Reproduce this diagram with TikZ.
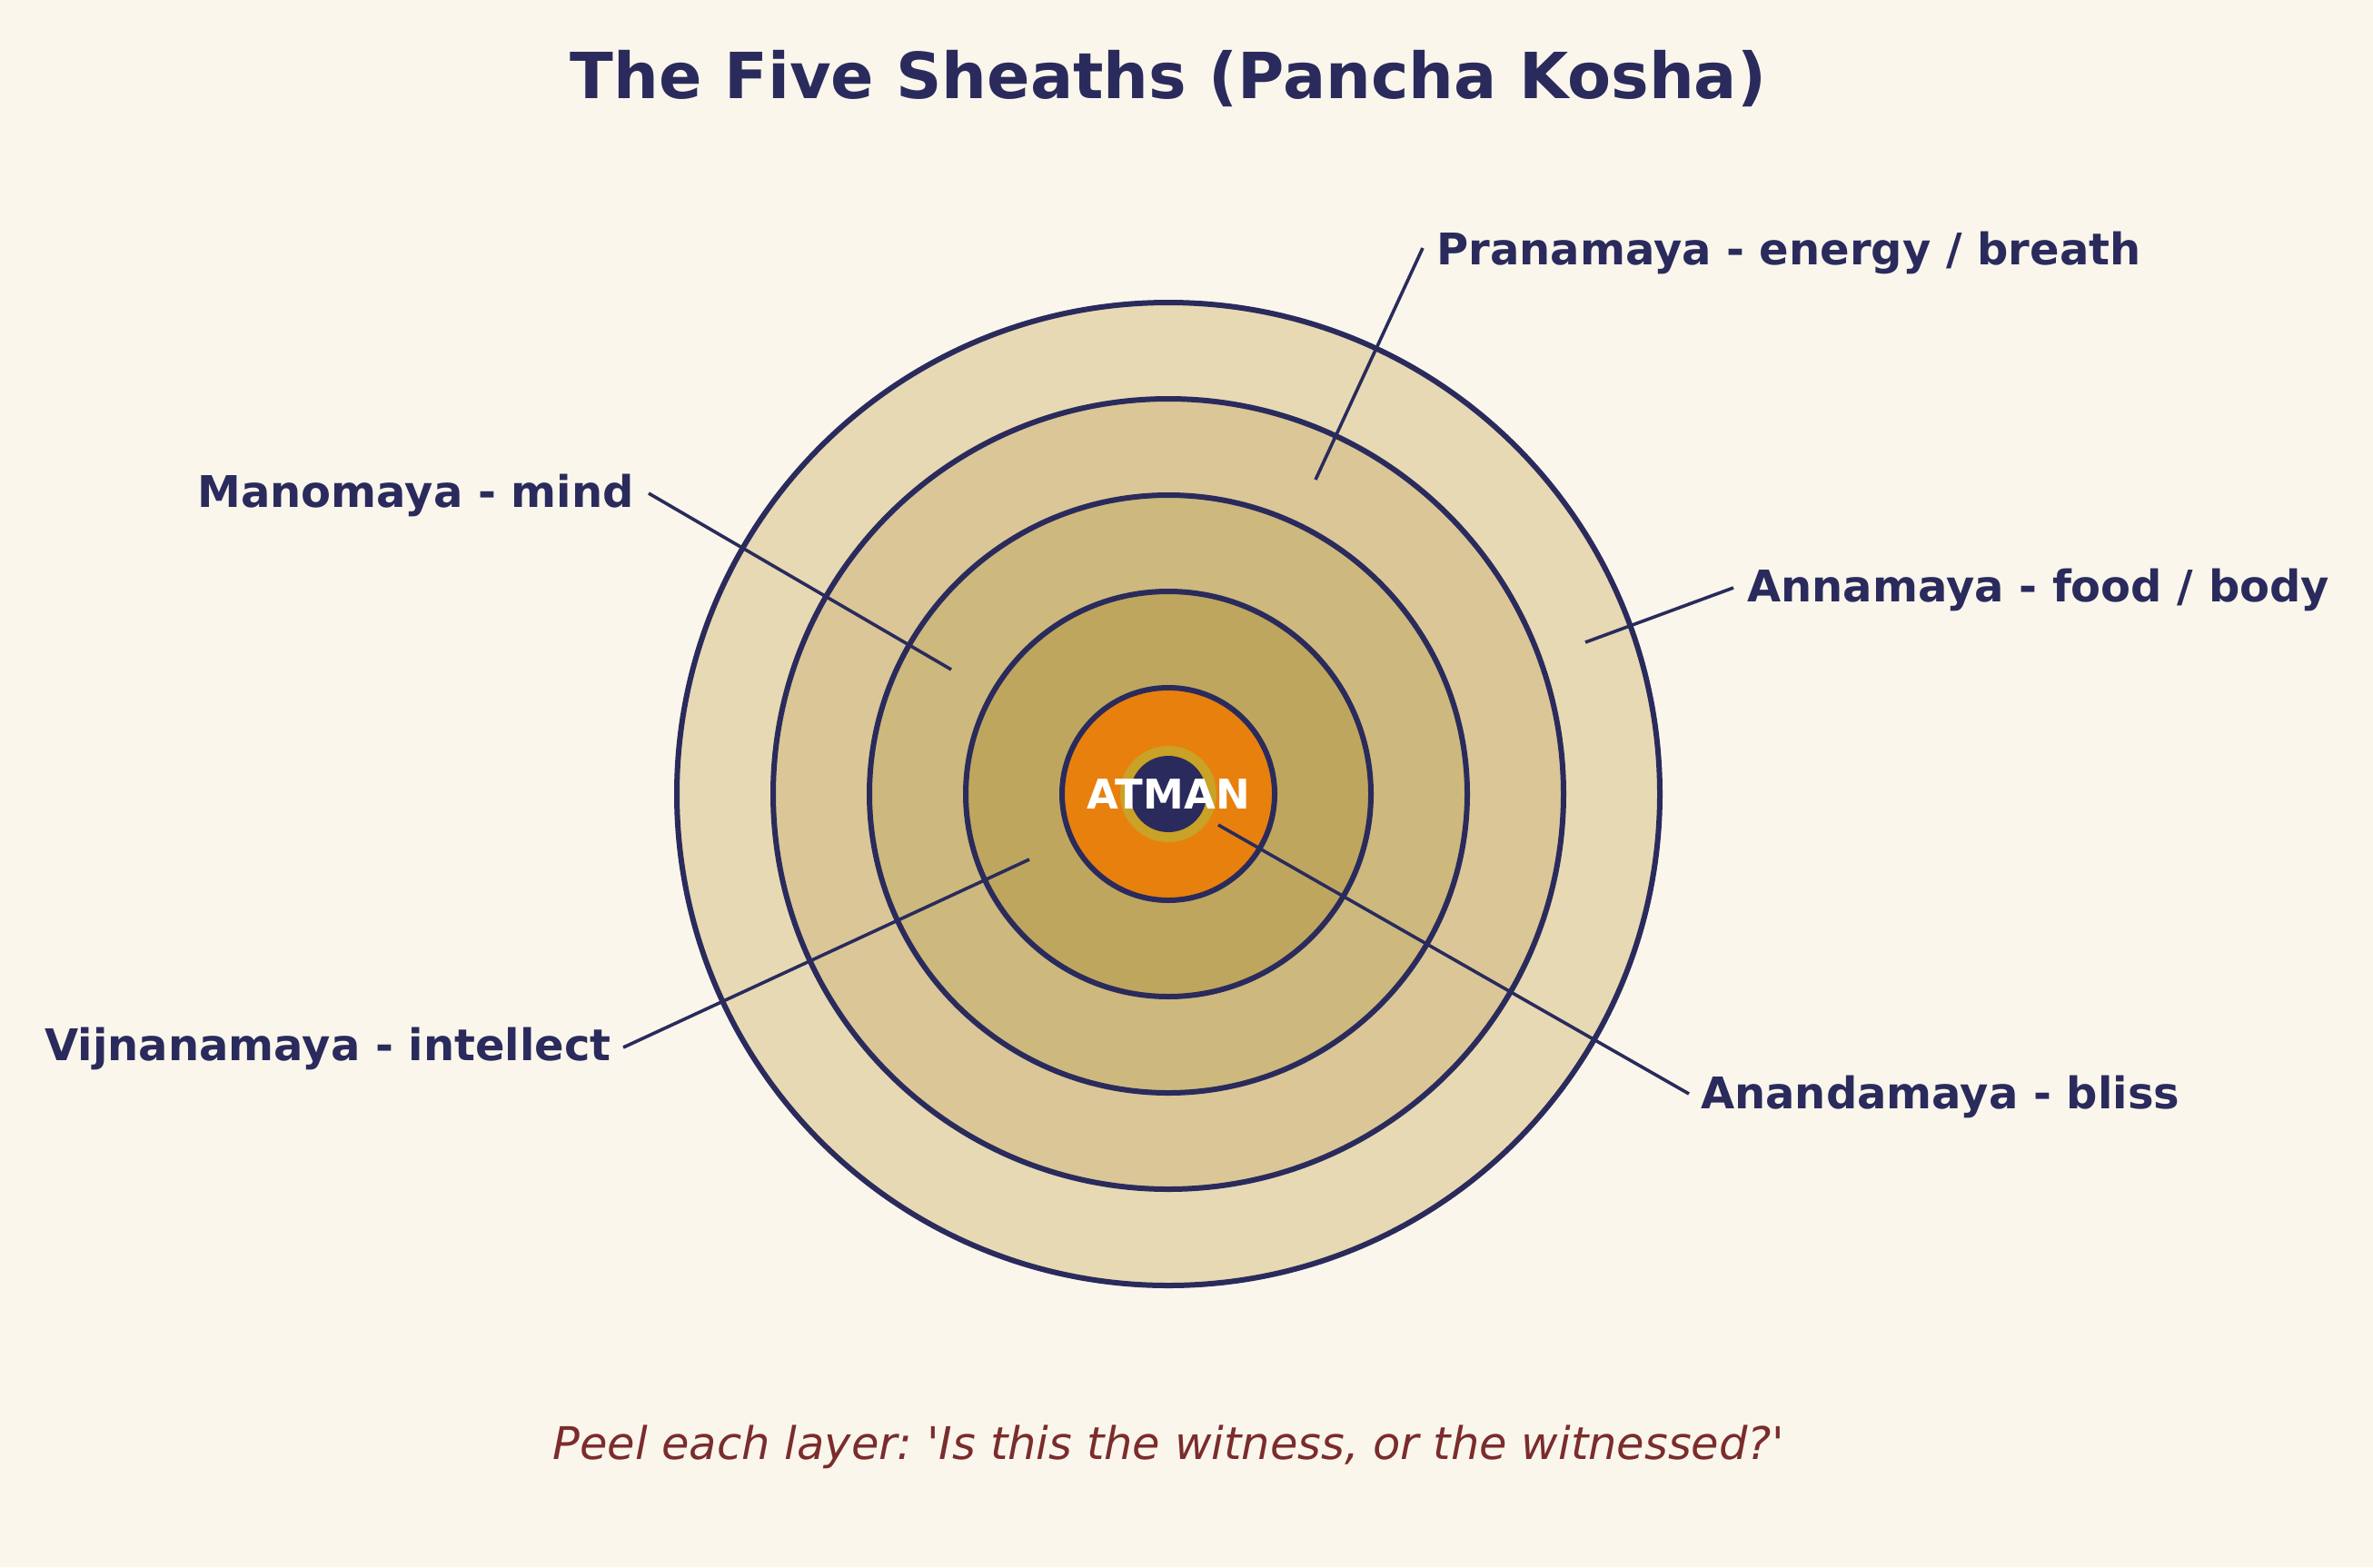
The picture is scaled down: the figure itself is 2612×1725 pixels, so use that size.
\documentclass[tikz,border=0pt]{standalone}
\usepackage{fontspec}
\setmainfont{DejaVu Sans}[Ligatures=TeXOff]
\definecolor{bg}{HTML}{FAF6EC}
\definecolor{navy}{HTML}{2A2B5C}
\definecolor{ringA}{HTML}{E7D9B4}
\definecolor{ringB}{HTML}{DBC698}
\definecolor{ringC}{HTML}{CDB87E}
\definecolor{ringD}{HTML}{BFA65E}
\definecolor{core}{HTML}{E8800E}
\definecolor{gold}{HTML}{C9A227}
\definecolor{foot}{HTML}{7B2C2C}
\tikzset{
  sheath/.style={draw=navy, line width=6pt},
  lbl/.style={text=navy, font=\bfseries\fontsize{48}{58}\selectfont, inner sep=0pt},
  leader/.style={draw=navy, line width=3.6pt},
}
\begin{document}
\frenchspacing
\begin{tikzpicture}[x=1pt,y=-1pt]
\useasboundingbox (0,0) rectangle (2612,1725);
\fill[bg] (0,0) rectangle (2612,1725);
\coordinate (c) at (1286,874);
\node[inner sep=0pt, text=navy, font=\bfseries\fontsize{70}{84}\selectfont, anchor=base] (title) at (1286,108) {The Five Sheaths (Pancha Kosha)};
\fill[ringA, sheath] (c) circle (541);
\fill[ringB, sheath] (c) circle (435);
\fill[ringC, sheath] (c) circle (329);
\fill[ringD, sheath] (c) circle (223);
\fill[core, sheath] (c) circle (117);
\fill[gold] (c) circle (53);
\fill[navy] (c) circle (42);
\node[inner sep=0pt, text=white, font=\bfseries\fontsize{45}{54}\selectfont] (atman) at (c) {ATMAN};
% labels
\node[lbl, anchor=base west] (prana) at (1581,291) {Pranamaya - energy / breath};
\node[lbl, anchor=base east] (mano) at (698,558) {Manomaya - mind};
\node[lbl, anchor=base west] (anna) at (1923,662) {Annamaya - food / body};
\node[lbl, anchor=base east] (vijn) at (673,1167) {Vijnanamaya - intellect};
\node[lbl, anchor=base west] (anan) at (1872,1220) {Anandamaya - bliss};
% leader ends
\coordinate (p1) at (1566,273); \coordinate (p2) at (1448,528);
\coordinate (m1) at (714,543);  \coordinate (m2) at (1047,737);
\coordinate (a1) at (1908,647); \coordinate (a2) at (1745,707);
\coordinate (v1) at (686,1153); \coordinate (v2) at (1133,946);
\coordinate (n1) at (1859,1204); \coordinate (n2) at (1341,908);
\draw[leader] (p1) -- (p2);
\draw[leader] (m1) -- (m2);
\draw[leader] (a1) -- (a2);
\draw[leader] (v1) -- (v2);
\draw[leader] (n1) -- (n2);
\node[inner sep=0pt, text=foot, font=\itshape\fontsize{49.5}{59}\selectfont, anchor=base] (footer) at (1286,1606) {Peel each layer: 'Is this the witness, or the witnessed?'};
\end{tikzpicture}
\end{document}
